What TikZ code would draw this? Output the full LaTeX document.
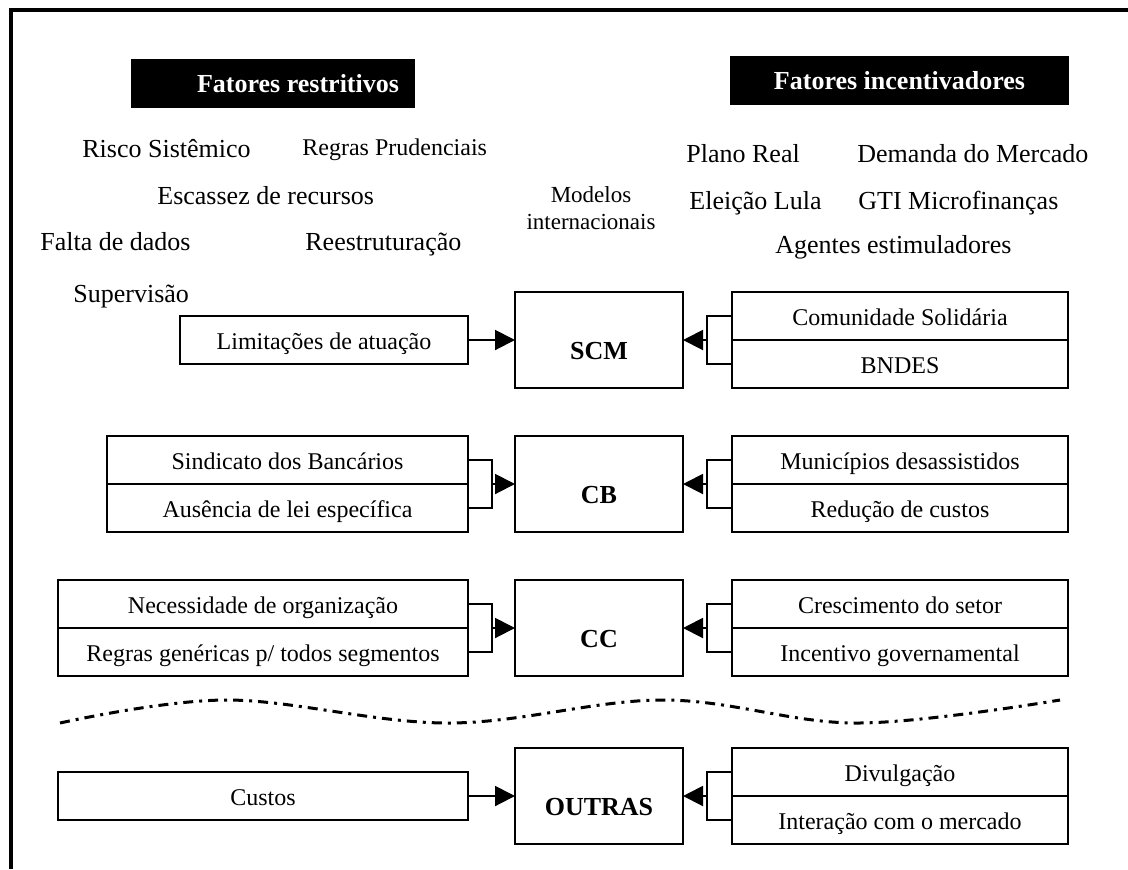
\documentclass[tikz,border=0pt]{standalone}
\usepackage{fontspec}
\setmainfont{Liberation Serif}
\usetikzlibrary{arrows.meta}

\begin{document}
\begin{tikzpicture}[x=0.5pt, y=-0.5pt,
	caixa/.style={draw, line width=1pt, inner sep=0pt, outer sep=0pt,
		minimum height=24pt, text height=11pt, text depth=2pt,
		font=\fontsize{12}{14}\selectfont},
	segm/.style={draw, line width=1pt, inner sep=0pt, outer sep=0pt,
		minimum width=84pt, minimum height=48pt, text height=19pt, text depth=0pt,
		font=\fontsize{13}{15}\selectfont\bfseries},
	titulo/.style={fill=black, text=white, inner sep=0pt, minimum height=24.5pt,
		font=\fontsize{13}{15}\selectfont\bfseries},
	fator/.style={inner sep=0pt, anchor=base west, font=\fontsize{13}{15}\selectfont},
	liga/.style={line width=1pt},
	seta/.style={line width=1pt, -{Triangle[length=10pt, width=10pt]}}]
	\useasboundingbox (0,0) rectangle (1128,869);
	\draw[line width=1.75pt] (11,869) -- (11,10) -- (1128,10);

	\node[titulo, minimum width=142pt] (restr) at (273,83.5) {\hspace*{25pt}Fatores restritivos};
	\node[titulo, minimum width=169.5pt] (incent) at (899.5,80.5) {Fatores incentivadores};

	\node[fator] (risco) at (82,157) {Risco Sistêmico};
	\node[fator, font=\fontsize{12}{14}\selectfont] (prud) at (302,155) {Regras Prudenciais};
	\node[fator] (escas) at (157,204) {Escassez de recursos};
	\node[fator] (falta) at (40,250) {Falta de dados};
	\node[fator] (reest) at (305,250) {Reestruturação};
	\node[fator] (superv) at (73,302) {Supervisão};
	\node[align=center, inner sep=0pt, font=\fontsize{11.5}{13.5}\selectfont] (modelos) at (591,208) {Modelos\\internacionais};
	\node[fator] (plano) at (686,162) {Plano Real};
	\node[fator] (demanda) at (857,162) {Demanda do Mercado};
	\node[fator] (lula) at (689,209) {Eleição Lula};
	\node[fator] (gti) at (858,209) {GTI Microfinanças};
	\node[fator] (agentes) at (775,253) {Agentes estimuladores};

	\node[segm] (scm) at (599,340) {SCM};
	\node[caixa, minimum width=144pt] (scmE1) at (324,340) {Limitações de atuação};
	\node[caixa, minimum width=168pt] (scmD1) at (900,316) {Comunidade Solidária};
	\node[caixa, minimum width=168pt] (scmD2) at (900,364) {BNDES};
	\coordinate (scmDj) at (707,340);
	\draw[seta] (scmE1) -- (scm);
	\draw[liga] (scmD1.west) -| (scmDj) |- (scmD2.west);
	\draw[seta] (scmDj) -- (scm.east);

	\node[segm] (cb) at (599,484) {CB};
	\node[caixa, minimum width=180.5pt] (cbE1) at (287.5,460) {Sindicato dos Bancários};
	\node[caixa, minimum width=180.5pt] (cbE2) at (287.5,508) {Ausência de lei específica};
	\node[caixa, minimum width=168pt] (cbD1) at (900,460) {Municípios desassistidos};
	\node[caixa, minimum width=168pt] (cbD2) at (900,508) {Redução de custos};
	\coordinate (cbEj) at (492,484);
	\coordinate (cbDj) at (707,484);
	\draw[liga] (cbE1.east) -| (cbEj) |- (cbE2.east);
	\draw[seta] (cbEj) -- (cb.west);
	\draw[liga] (cbD1.west) -| (cbDj) |- (cbD2.west);
	\draw[seta] (cbDj) -- (cb.east);

	\node[segm] (cc) at (599,628) {CC};
	\node[caixa, minimum width=205pt] (ccE1) at (263,604) {Necessidade de organização};
	\node[caixa, minimum width=205pt] (ccE2) at (263,652) {Regras genéricas p/ todos segmentos};
	\node[caixa, minimum width=168pt] (ccD1) at (900,604) {Crescimento do setor};
	\node[caixa, minimum width=168pt] (ccD2) at (900,652) {Incentivo governamental};
	\coordinate (ccEj) at (492,628);
	\coordinate (ccDj) at (707,628);
	\draw[liga] (ccE1.east) -| (ccEj) |- (ccE2.east);
	\draw[seta] (ccEj) -- (cc.west);
	\draw[liga] (ccD1.west) -| (ccDj) |- (ccD2.west);
	\draw[seta] (ccDj) -- (cc.east);

	\draw[line width=1.5pt, dash pattern=on 5pt off 3pt on 1.5pt off 3pt]
		plot[smooth, tension=0.6] coordinates {(60,723) (227,700) (448,723) (663,700) (857,723) (1060,700)};

	\node[segm] (outras) at (599,796) {OUTRAS};
	\node[caixa, minimum width=205pt] (outE1) at (263,796) {Custos};
	\node[caixa, minimum width=168pt] (outD1) at (900,772) {Divulgação};
	\node[caixa, minimum width=168pt] (outD2) at (900,820) {Interação com o mercado};
	\coordinate (outDj) at (707,796);
	\draw[seta] (outE1) -- (outras);
	\draw[liga] (outD1.west) -| (outDj) |- (outD2.west);
	\draw[seta] (outDj) -- (outras.east);
\end{tikzpicture}
\end{document}
